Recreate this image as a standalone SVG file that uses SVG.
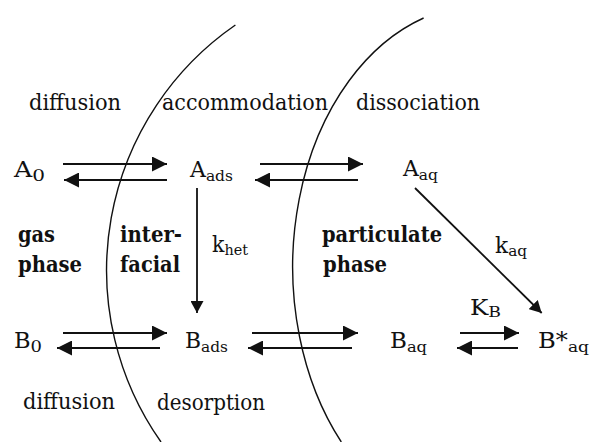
<svg xmlns="http://www.w3.org/2000/svg" width="590" height="442" viewBox="0 0 590 442">
<style>
text{font-size:22px;fill:#111;}
.b{font-weight:bold;}
.s{font-size:15.5px;}
.z{font-size:17.5px;}
.c{fill:none;stroke:#111;stroke-width:1.4;}
.a{fill:none;stroke:#111;stroke-width:1.8;}
</style>
<defs>
<marker id="ah" viewBox="0 0 15 15" refX="15" refY="7.5" markerWidth="15" markerHeight="15" markerUnits="userSpaceOnUse" orient="auto">
<path d="M0,0 L15,7.5 L0,15 z" fill="#111"/>
</marker>
<marker id="ahs" viewBox="0 0 12 13" refX="12" refY="6.5" markerWidth="12" markerHeight="13" markerUnits="userSpaceOnUse" orient="auto">
<path d="M0,0 L12,6.5 L0,13 z" fill="#111"/>
</marker>
</defs>

<g id="boundaries">
<path class="c" d="M235.4,25 A298,298 0 0 0 161,442"/>
<path class="c" d="M423.6,18 A190,262 0 0 0 341.3,442"/>
</g>

<g font-family="DejaVu Serif, serif">
<g id="process-labels">
<text x="29" y="110" textLength="92" lengthAdjust="spacingAndGlyphs">diffusion</text>
<text x="162" y="110" textLength="166" lengthAdjust="spacingAndGlyphs">accommodation</text>
<text x="356" y="110" textLength="124" lengthAdjust="spacingAndGlyphs">dissociation</text>
<text x="23" y="409" textLength="92" lengthAdjust="spacingAndGlyphs">diffusion</text>
<text x="157" y="410" textLength="108" lengthAdjust="spacingAndGlyphs">desorption</text>
</g>

<g id="phase-labels">
<text class="b" x="18" y="242" textLength="37" lengthAdjust="spacingAndGlyphs">gas</text>
<text class="b" x="18" y="272" textLength="64" lengthAdjust="spacingAndGlyphs">phase</text>
<text class="b" x="120" y="242" textLength="62" lengthAdjust="spacingAndGlyphs">inter-</text>
<text class="b" x="120" y="272" textLength="60" lengthAdjust="spacingAndGlyphs">facial</text>
<text class="b" x="322" y="242" textLength="120" lengthAdjust="spacingAndGlyphs">particulate</text>
<text class="b" x="323" y="272" textLength="64" lengthAdjust="spacingAndGlyphs">phase</text>
</g>

<g id="A0"><text x="14" y="177" textLength="31" lengthAdjust="spacingAndGlyphs">A<tspan class="z" dy="3.5">0</tspan></text></g>
<g id="Aads"><text x="190" y="177" textLength="43" lengthAdjust="spacingAndGlyphs">A<tspan class="s" dy="4">ads</tspan></text></g>
<g id="Aaq"><text x="403" y="176" textLength="35" lengthAdjust="spacingAndGlyphs">A<tspan class="s" dy="4">aq</tspan></text></g>
<g id="B0"><text x="14" y="348" textLength="28" lengthAdjust="spacingAndGlyphs">B<tspan class="z" dy="3.5">0</tspan></text></g>
<g id="Bads"><text x="185" y="348" textLength="43" lengthAdjust="spacingAndGlyphs">B<tspan class="s" dy="4">ads</tspan></text></g>
<g id="Baq"><text x="390" y="348" textLength="37" lengthAdjust="spacingAndGlyphs">B<tspan class="s" dy="4">aq</tspan></text></g>
<g id="Bstar"><text x="538" y="348" textLength="51" lengthAdjust="spacingAndGlyphs">B*<tspan class="s" dy="4">aq</tspan></text></g>

<g id="rate-labels">
<text x="212" y="252" textLength="36" lengthAdjust="spacingAndGlyphs">k<tspan class="s" dy="3">het</tspan></text>
<text x="495" y="253" textLength="32" lengthAdjust="spacingAndGlyphs">k<tspan class="s" dy="3">aq</tspan></text>
<text x="470" y="315" textLength="31" lengthAdjust="spacingAndGlyphs">K<tspan class="s" dy="2">B</tspan></text>
</g>
</g>

<g id="connectors">
<line class="a" x1="63" y1="164" x2="167" y2="164" marker-end="url(#ah)"/>
<line class="a" x1="167" y1="180" x2="64" y2="180" marker-end="url(#ah)"/>
<line class="a" x1="260" y1="164" x2="363" y2="164" marker-end="url(#ah)"/>
<line class="a" x1="358" y1="180" x2="255" y2="180" marker-end="url(#ah)"/>
<line class="a" x1="63" y1="333" x2="167" y2="333" marker-end="url(#ah)"/>
<line class="a" x1="160" y1="348" x2="57" y2="348" marker-end="url(#ah)"/>
<line class="a" x1="252" y1="333" x2="358" y2="333" marker-end="url(#ah)"/>
<line class="a" x1="352" y1="348" x2="248" y2="348" marker-end="url(#ah)"/>
<line class="a" x1="460" y1="333" x2="519" y2="333" marker-end="url(#ah)"/>
<line class="a" x1="518" y1="348" x2="457" y2="348" marker-end="url(#ah)"/>
<line class="a" x1="197" y1="188" x2="197" y2="313" marker-end="url(#ahs)"/>
<line class="a" x1="415" y1="188" x2="541.7" y2="313" marker-end="url(#ahs)"/>
</g>
</svg>
